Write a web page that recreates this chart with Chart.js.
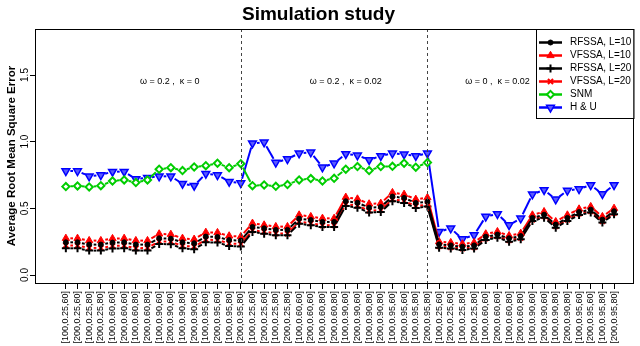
<!DOCTYPE html>
<html>
<head>
<meta charset="utf-8">
<title>Simulation study</title>
<script src="https://cdn.jsdelivr.net/npm/chart.js"></script>
<style>
	body { margin: 0; background: #fff; }
	canvas { display: block; }
</style>
</head>
<body>
<canvas id="simChart" width="640" height="346"></canvas>
<script>
// one block of 16 settings, repeated for each of the three scenarios
const blockLabels = [
	"[100,0.25,60]", "[200,0.25,60]", "[100,0.25,80]", "[200,0.25,80]",
	"[100,0.60,60]", "[200,0.60,60]", "[100,0.60,80]", "[200,0.60,80]",
	"[100,0.90,60]", "[200,0.90,60]", "[100,0.90,80]", "[200,0.90,80]",
	"[100,0.95,60]", "[200,0.95,60]", "[100,0.95,80]", "[200,0.95,80]",
];
const tickLabels = [...blockLabels, ...blockLabels, ...blockLabels];

const rfssa10 = [
	0.245, 0.245, 0.228, 0.228, 0.243, 0.245, 0.228, 0.228, 0.275, 0.272, 0.245, 0.238, 0.288, 0.285, 0.262, 0.258,
	0.360, 0.350, 0.338, 0.338, 0.422, 0.412, 0.398, 0.398, 0.553, 0.542, 0.505, 0.510, 0.588, 0.578, 0.540, 0.550,
	0.230, 0.222, 0.212, 0.222, 0.287, 0.303, 0.275, 0.292, 0.428, 0.452, 0.378, 0.428, 0.472, 0.490, 0.415, 0.478,
];
const vfssa10 = [
	0.275, 0.275, 0.258, 0.258, 0.273, 0.275, 0.258, 0.258, 0.308, 0.305, 0.275, 0.268, 0.320, 0.318, 0.293, 0.288,
	0.388, 0.375, 0.363, 0.363, 0.450, 0.438, 0.425, 0.425, 0.583, 0.570, 0.533, 0.538, 0.618, 0.605, 0.568, 0.580,
	0.250, 0.243, 0.233, 0.243, 0.308, 0.325, 0.295, 0.313, 0.450, 0.475, 0.400, 0.450, 0.495, 0.513, 0.438, 0.500,
];
const rfssa20 = [
	0.200, 0.200, 0.183, 0.183, 0.198, 0.200, 0.183, 0.183, 0.233, 0.230, 0.200, 0.193, 0.245, 0.243, 0.218, 0.213,
	0.323, 0.310, 0.298, 0.298, 0.385, 0.373, 0.360, 0.360, 0.518, 0.505, 0.468, 0.473, 0.553, 0.540, 0.503, 0.513,
	0.205, 0.198, 0.188, 0.198, 0.263, 0.280, 0.250, 0.268, 0.405, 0.430, 0.355, 0.405, 0.450, 0.468, 0.393, 0.455,
];
const vfssa20 = [
	0.222, 0.220, 0.203, 0.203, 0.218, 0.220, 0.200, 0.203, 0.252, 0.250, 0.218, 0.213, 0.265, 0.262, 0.237, 0.232,
	0.335, 0.325, 0.312, 0.310, 0.400, 0.388, 0.372, 0.373, 0.532, 0.520, 0.482, 0.487, 0.568, 0.555, 0.517, 0.527,
	0.215, 0.208, 0.198, 0.208, 0.273, 0.290, 0.260, 0.278, 0.415, 0.440, 0.365, 0.415, 0.460, 0.478, 0.403, 0.465,
];
const snm = [
	0.663, 0.668, 0.660, 0.670, 0.705, 0.713, 0.693, 0.713, 0.793, 0.805, 0.783, 0.810, 0.820, 0.838, 0.805, 0.835,
	0.670, 0.675, 0.665, 0.678, 0.713, 0.723, 0.705, 0.725, 0.793, 0.813, 0.783, 0.813, 0.815, 0.838, 0.808, 0.843,
	null, null, null, null, null, null, null, null, null, null, null, null, null, null, null, null,
];
const hu = [
	0.780, 0.780, 0.740, 0.750, 0.775, 0.775, 0.720, 0.730, 0.740, 0.740, 0.685, 0.670, 0.760, 0.750, 0.700, 0.690,
	0.988, 0.995, 0.843, 0.870, 0.913, 0.920, 0.808, 0.838, 0.908, 0.898, 0.863, 0.893, 0.913, 0.905, 0.893, 0.913,
	0.325, 0.350, 0.270, 0.300, 0.438, 0.458, 0.375, 0.425, 0.605, 0.638, 0.568, 0.633, 0.645, 0.675, 0.608, 0.675,
];

const yTicks = [0, 0.5, 1.0, 1.5];
const dividers = [15, 31];
const notes = [
	{ text: "\u03c9 = 0.2 ,  \u03ba = 0", x: 8.9, y: 1.45 },
	{ text: "\u03c9 = 0.2 ,  \u03ba = 0.02", x: 24, y: 1.45 },
	{ text: "\u03c9 = 0 ,  \u03ba = 0.02", x: 37, y: 1.45 },
];

const FONT = "'Liberation Sans', Arial, Helvetica, sans-serif";
const GAP = 4.5; // blank space left round each point, like R's type = "b"

function segLength(ctx) {
	return Math.hypot(ctx.p1.x - ctx.p0.x, ctx.p1.y - ctx.p0.y);
}

const gapped = {
	borderDash: (ctx) => {
		const len = segLength(ctx);
		return len > 2 * GAP ? [len - 2 * GAP, 2 * GAP] : [0, len + 1];
	},
	borderDashOffset: (ctx) => segLength(ctx) - GAP,
};

function series(label, data, color, style) {
	return Object.assign({
		label: label,
		data: data,
		borderColor: color,
		backgroundColor: color,
		pointBorderColor: color,
		pointBackgroundColor: color,
		borderWidth: 2,
		pointBorderWidth: 1,
		pointRadius: 3,
		tension: 0,
		spanGaps: false,
		segment: gapped,
	}, style);
}

const datasets = [
	series("RFSSA, L=10", rfssa10, "#000000", { pointStyle: "circle", pointRadius: 2.5 }),
	series("VFSSA, L=10", vfssa10, "#ff0000", { pointStyle: "triangle", pointRadius: 4.2 }),
	series("RFSSA, L=20", rfssa20, "#000000", { pointStyle: "cross", pointRadius: 4, pointBorderWidth: 2 }),
	series("VFSSA, L=20", vfssa20, "#ff0000", { pointStyle: "crossRot", pointRadius: 3.6, pointBorderWidth: 2 }),
	series("SNM", snm, "#00cd00", { pointStyle: "rectRot", pointRadius: 3.6, pointBorderWidth: 2, pointBackgroundColor: "#ffffff" }),
	series("H & U", hu, "#0000ff", { pointStyle: "triangle", pointRotation: 180, pointRadius: 4.5, pointBorderWidth: 1.5, pointBackgroundColor: "#5a5aff" }),
];

const decor = {
	id: "decor",
	afterDraw(chart) {
		const ctx = chart.ctx;
		const area = chart.chartArea;
		const xs = chart.scales.x;
		const ys = chart.scales.y;
		ctx.save();

		// dotted separators between scenarios
		ctx.strokeStyle = "#444";
		ctx.lineWidth = 1;
		ctx.setLineDash([3, 3]);
		for (const d of dividers) {
			const px = Math.round(xs.getPixelForValue(d)) + 0.5;
			ctx.beginPath();
			ctx.moveTo(px, area.top);
			ctx.lineTo(px, area.bottom);
			ctx.stroke();
		}
		ctx.setLineDash([]);

		// scenario notes
		ctx.fillStyle = "#000";
		ctx.font = "9px " + FONT;
		ctx.textAlign = "center";
		ctx.textBaseline = "middle";
		for (const n of notes) {
			ctx.fillText(n.text, xs.getPixelForValue(n.x), ys.getPixelForValue(n.y));
		}

		// y tick labels, rotated like base R
		ctx.font = "10px " + FONT;
		for (const t of yTicks) {
			ctx.save();
			ctx.translate(25.5, ys.getPixelForValue(t));
			ctx.rotate(-Math.PI / 2);
			ctx.fillText(t.toFixed(1), 0, 0);
			ctx.restore();
		}

		// y axis title
		ctx.save();
		ctx.font = "bold 11.5px " + FONT;
		ctx.translate(11.5, (area.top + area.bottom) / 2);
		ctx.rotate(-Math.PI / 2);
		ctx.fillText("Average Root Mean Square Error", 0, 0);
		ctx.restore();

		// box round the plot
		ctx.strokeStyle = "#000";
		ctx.lineWidth = 1;
		ctx.strokeRect(Math.round(area.left) + 0.5, Math.round(area.top) + 0.5,
			Math.round(area.right - area.left) - 1, Math.round(area.bottom - area.top));

		// legend, top right inside the plot
		const lx = 536;
		const ly = Math.round(area.top) + 0.5;
		const lw = Math.round(area.right) - 0.5 - lx;
		const rowH = 13;
		ctx.fillStyle = "#fff";
		ctx.fillRect(lx, ly, lw, 89);
		ctx.strokeRect(lx + 0.5, ly, lw, 89);
		ctx.textAlign = "left";
		ctx.font = "10px " + FONT;
		chart.data.datasets.forEach((ds, i) => {
			const cy = ly + 13 + i * rowH;
			ctx.strokeStyle = ds.borderColor;
			ctx.lineWidth = 2.5;
			ctx.beginPath();
			ctx.moveTo(539, cy);
			ctx.lineTo(562, cy);
			ctx.stroke();
			ctx.fillStyle = ds.pointBackgroundColor;
			ctx.strokeStyle = ds.pointBorderColor;
			ctx.lineWidth = ds.pointBorderWidth;
			Chart.helpers.drawPoint(ctx, {
				pointStyle: ds.pointStyle,
				rotation: ds.pointRotation || 0,
				radius: ds.pointRadius,
				borderWidth: ds.pointBorderWidth,
			}, 550.5, cy);
			ctx.fillStyle = "#000";
			ctx.fillText(ds.label, 570, cy);
		});

		ctx.restore();
	},
};

new Chart(document.getElementById("simChart"), {
	type: "line",
	data: {
		labels: tickLabels.map((_, i) => i),
		datasets: datasets,
	},
	options: {
		responsive: false,
		animation: false,
		events: [],
		layout: { padding: { left: 0, right: 3, top: 0, bottom: 0 } },
		plugins: {
			legend: { display: false },
			tooltip: { enabled: false },
			title: {
				display: true,
				text: "Simulation study",
				color: "#000",
				font: { family: FONT, size: 19, weight: "bold", lineHeight: 1.2 },
				padding: { top: 3, bottom: 3.2 },
			},
		},
		scales: {
			x: {
				type: "linear",
				min: -2.645,
				max: 48.71,
				afterBuildTicks: (s) => {
					s.ticks = tickLabels.map((_, i) => ({ value: i }));
				},
				afterFit: (s) => {
					s.height = 63;
				},
				border: { display: false },
				grid: {
					drawOnChartArea: false,
					drawTicks: true,
					tickLength: 6,
					color: "#000",
				},
				ticks: {
					autoSkip: false,
					minRotation: 90,
					maxRotation: 90,
					padding: 2,
					color: "#000",
					font: { family: FONT, size: 9 },
					callback: (v) => tickLabels[v],
				},
			},
			y: {
				min: -0.06,
				max: 1.845,
				afterBuildTicks: (s) => {
					s.ticks = yTicks.map((v) => ({ value: v }));
				},
				afterFit: (s) => {
					s.width = 35;
				},
				border: { display: false },
				grid: {
					drawOnChartArea: false,
					drawTicks: true,
					tickLength: 5,
					color: "#000",
				},
				ticks: { display: false },
			},
		},
	},
	plugins: [decor],
});
</script>
</body>
</html>
